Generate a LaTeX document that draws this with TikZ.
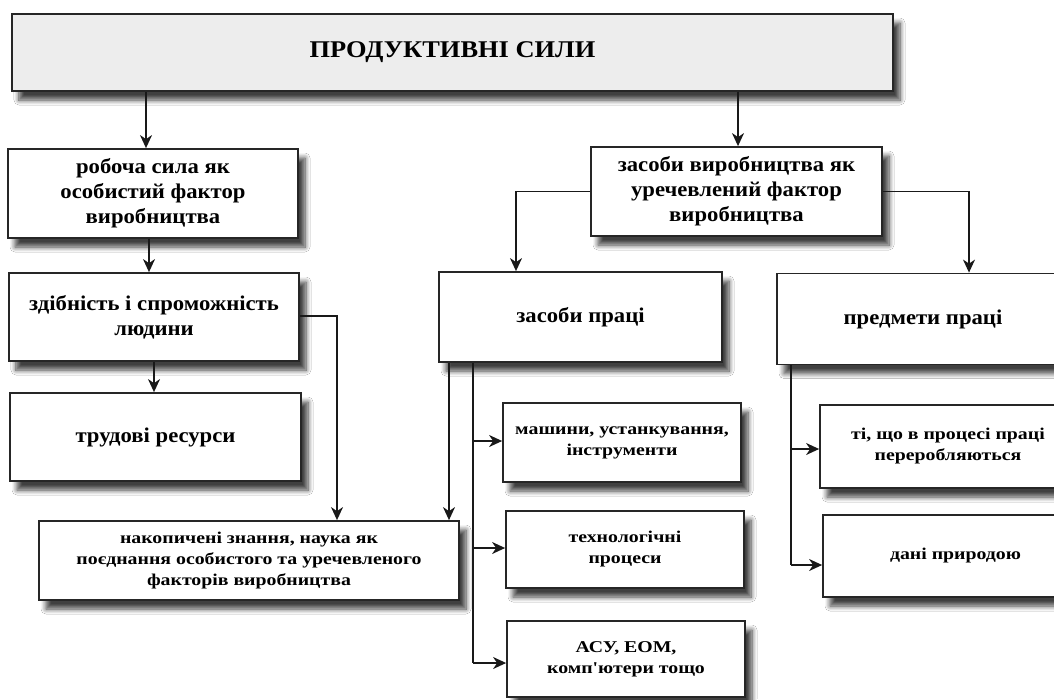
\documentclass[tikz,border=0pt]{standalone}
\usepackage{fontspec}
\setmainfont{Liberation Serif}
\newfontfamily\bigfam[FakeStretch=1.08]{Liberation Serif}
\newfontfamily\smallfam[FakeStretch=1.2]{Liberation Serif}
\newfontfamily\titlefam[FakeStretch=1.1]{Liberation Serif}
\usetikzlibrary{arrows.meta,shadows.blur}
\tikzset{
  box/.style={draw=black!85, line width=1.8pt, fill=white, align=center, inner sep=0pt,
    blur shadow={shadow xshift=7pt, shadow yshift=-9pt, shadow blur steps=8, shadow blur radius=5pt, shadow opacity=75}},
  bigtxt/.style={font=\bigfam\bfseries\fontsize{21}{25}\selectfont},
  smalltxt/.style={font=\smallfam\bfseries\fontsize{16.5}{21}\selectfont},
  arr/.style={-{Stealth[length=13pt,width=12pt,inset=4pt]}, line width=1.3pt, draw=black!90},
  ln/.style={line width=1.3pt, draw=black!90}
}
\begin{document}
\begin{tikzpicture}[x=1pt,y=-1pt]
\clip (0,0) rectangle (1054,699);
\fill[white] (0,0) rectangle (1054,699);
% nodes
\node[box, fill=black!7, minimum width=881pt, minimum height=77pt,
      font=\titlefam\bfseries\fontsize{24}{28}\selectfont] (top) at (452.5,52.5)
  {ПРОДУКТИВНІ СИЛИ};
\node[box, bigtxt, minimum width=290pt, minimum height=89pt] (rob) at (153,193.5)
  {робоча сила як\\особистий фактор\\виробництва};
\node[box, bigtxt, minimum width=290pt, minimum height=88pt] (zdib) at (154,317)
  {здібність і спроможність\\людини};
\node[box, bigtxt, minimum width=291pt, minimum height=88pt] (trud) at (155.5,437)
  {трудові ресурси};
\node[box, smalltxt, minimum width=420pt, minimum height=79pt] (nak) at (249,560.5)
  {накопичені знання, наука як\\поєднання особистого та уречевленого\\факторів виробництва};
\node[box, bigtxt, minimum width=291pt, minimum height=89pt] (zv) at (736.5,191.5)
  {засоби виробництва як\\уречевлений фактор\\виробництва};
\node[box, bigtxt, minimum width=283pt, minimum height=90pt] (zp) at (580.5,317)
  {засоби праці};
\node[box, bigtxt, minimum width=292pt, minimum height=91pt] (pp) at (923,319)
  {предмети праці};
\node[box, smalltxt, minimum width=238pt, minimum height=79pt] (mash) at (622,442.5)
  {машини, устанкування,\\інструменти};
\node[box, smalltxt, minimum width=238pt, minimum height=77pt] (tech) at (625,549.5)
  {технологічні\\процеси};
\node[box, smalltxt, minimum width=238pt, minimum height=76pt] (asu) at (626,659)
  {АСУ, ЕОМ,\\комп'ютери тощо};
\node[box, smalltxt, minimum width=256pt, minimum height=83pt] (ti) at (948,446.5)
  {ті, що в процесі праці\\переробляються};
\node[box, smalltxt, minimum width=265pt, minimum height=82pt] (dani) at (955.5,556)
  {дані природою};
% helper coordinates
\coordinate (xa) at (146,0);
\coordinate (xz) at (738,0);
\coordinate (xr) at (149,0);
\coordinate (xt) at (154,0);
\coordinate (xb) at (337,0);
\coordinate (xc) at (516,0);
\coordinate (xd) at (969,0);
\coordinate (xn) at (449,0);
\coordinate (xe) at (473,0);
\coordinate (xf) at (791,0);
\coordinate (y1) at (0,441);
\coordinate (y2) at (0,548);
\coordinate (y3) at (0,663);
\coordinate (y4) at (0,449);
\coordinate (y5) at (0,565);
\coordinate (ys) at (0,316);
% connectors
\draw[arr] (top.south -| xa) -- (rob.north -| xa);
\draw[arr] (top.south -| xz) -- (zv.north -| xz);
\draw[arr] (rob.south -| xr) -- (zdib.north -| xr);
\draw[arr] (zdib.south -| xt) -- (trud.north -| xt);
\draw[arr] (zdib.east |- ys) -| (nak.north -| xb);
\draw[arr] (zv.west) -| (zp.north -| xc);
\draw[arr] (zv.east) -| (pp.north -| xd);
\draw[arr] (zp.south -| xn) -- (nak.north -| xn);
\draw[ln] (zp.south -| xe) -- (xe |- y3);
\draw[arr] (xe |- y1) -- (mash.west |- y1);
\draw[arr] (xe |- y2) -- (tech.west |- y2);
\draw[arr] (xe |- y3) -- (asu.west |- y3);
\draw[ln] (pp.south -| xf) -- (xf |- y5);
\draw[arr] (xf |- y4) -- (ti.west |- y4);
\draw[arr] (xf |- y5) -- (dani.west |- y5);
\end{tikzpicture}
\end{document}
